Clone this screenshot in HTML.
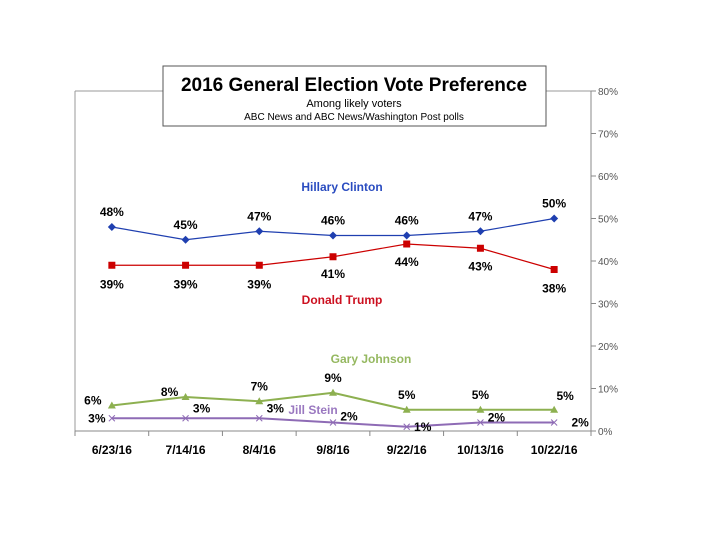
<!DOCTYPE html>
<html><head><meta charset="utf-8"><style>
html,body{margin:0;padding:0;background:#fff;}
svg{display:block;font-family:"Liberation Sans",Arial,sans-serif;}
</style></head><body>
<svg id="chart" width="711" height="533" viewBox="0 0 711 533">
<line x1="75" y1="91" x2="75" y2="431" stroke="#999" stroke-width="1"/>
<line x1="75" y1="91" x2="591" y2="91" stroke="#999" stroke-width="1"/>
<g id="axes"></g>
<g id="series"></g>
<rect x="163" y="66" width="383" height="60" fill="#fff" stroke="#555" stroke-width="1"/>
<text x="354" y="91" text-anchor="middle" font-size="19" font-weight="bold" fill="#000">2016 General Election Vote Preference</text>
<text x="354" y="107" text-anchor="middle" font-size="11" fill="#000">Among likely voters</text>
<text x="354" y="120" text-anchor="middle" font-size="10" fill="#000">ABC News  and ABC News/Washington  Post polls</text>
</svg>
<script>
const categories = ["6/23/16","7/14/16","8/4/16","9/8/16","9/22/16","10/13/16","10/22/16"];
const clinton = [48,45,47,46,46,47,50];
const trump = [39,39,39,41,44,43,38];
const johnson = [6,8,7,9,5,5,5];
const stein = [3,3,3,2,1,2,2];
const yTicks = [0,10,20,30,40,50,60,70,80];

const NS="http://www.w3.org/2000/svg";
const x0=75,x1=591,yB=431,yT=91,yMax=80;
const bw=(x1-x0)/categories.length;
const X=i=>x0+bw*(i+0.5);
const Y=v=>yB-(v/yMax)*(yB-yT);
function mk(tag,attrs,parent){const e=document.createElementNS(NS,tag);for(const k in attrs)e.setAttribute(k,attrs[k]);parent.appendChild(e);return e;}
const axes=document.getElementById('axes'), ser=document.getElementById('series');

let e=mk('line',{x1:x1,y1:yT,x2:x1,y2:yB,stroke:'#888'},axes);


e=mk('line',{x1:x0,y1:yB,x2:x1,y2:yB,stroke:'#888'},axes);


yTicks.forEach(t=>{
  const l=mk('line',{x1:x1,y1:Y(t),x2:x1+5,y2:Y(t),stroke:'#888'},axes);
  
  
  const tx=mk('text',{x:x1+7,y:Y(t)+4,'font-size':10,fill:'#555'},axes);
  tx.textContent=t+'%';
  
  
});
for(let i=0;i<=categories.length;i++){
  const l=mk('line',{x1:x0+bw*i,y1:yB,x2:x0+bw*i,y2:yB+5,stroke:'#888'},axes);
  
  
}
categories.forEach((c,i)=>{
  const t=mk('text',{x:X(i),y:yB+23,'text-anchor':'middle','font-size':12,'font-weight':'bold',fill:'#000'},axes);
  t.textContent=c;
  
  
});

function series(vals,color,name,marker,lblOff,width){
  const g=mk('g',{},ser);
  
  
  const p=mk('polyline',{points:vals.map((v,i)=>X(i)+','+Y(v)).join(' '),fill:'none',stroke:color,'stroke-width':width},g);
  
  
  vals.forEach((v,i)=>{
    const cx=X(i),cy=Y(v);let m;
    if(marker==='diamond')m=mk('polygon',{points:`${cx},${cy-4} ${cx+4},${cy} ${cx},${cy+4} ${cx-4},${cy}`,fill:color},g);
    else if(marker==='square')m=mk('rect',{x:cx-3.5,y:cy-3.5,width:7,height:7,fill:color},g);
    else if(marker==='triangle')m=mk('polygon',{points:`${cx},${cy-4} ${cx+4},${cy+3} ${cx-4},${cy+3}`,fill:color},g);
    else m=mk('path',{d:`M${cx-3},${cy-3}L${cx+3},${cy+3}M${cx+3},${cy-3}L${cx-3},${cy+3}`,stroke:color,'stroke-width':1},g);
    
    
    const o=lblOff[i];
    const t=mk('text',{x:cx+o[0],y:cy+o[1],'text-anchor':'middle','font-size':12,'font-weight':'bold',fill:'#000'},g);
    t.textContent=v+'%';
    
    
  });
}
series(clinton,'#1f3fb0','clinton','diamond',[[0,-11],[0,-11],[0,-11],[0,-11],[0,-11],[0,-11],[0,-11]],1.2);
series(trump,'#cc0000','trump','square',[[0,23],[0,23],[0,23],[0,21],[0,22],[0,22],[0,23]],1.2);
series(johnson,'#8db050','johnson','triangle',[[-19,-1],[-16,-1],[0,-11],[0,-11],[0,-11],[0,-11],[11,-10]],2);
series(stein,'#8e6bb5','stein','x',[[-15,4],[16,-6],[16,-6],[16,-2],[16,4],[16,-1],[26,4]],2);

function lbl(txt,x,y,color,name){const t=mk('text',{x:x,y:y,'text-anchor':'middle','font-size':12,'font-weight':'bold',fill:color},ser);t.textContent=txt;

}
lbl('Hillary Clinton',342,191,'#2a4cc0','clinton-series-label');
lbl('Donald Trump',342,304,'#cc1020','trump-series-label');
lbl('Gary Johnson',371,363,'#95b860','johnson-series-label');
lbl('Jill Stein',313,414,'#9a78c0','stein-series-label');
</script>
</body></html>
